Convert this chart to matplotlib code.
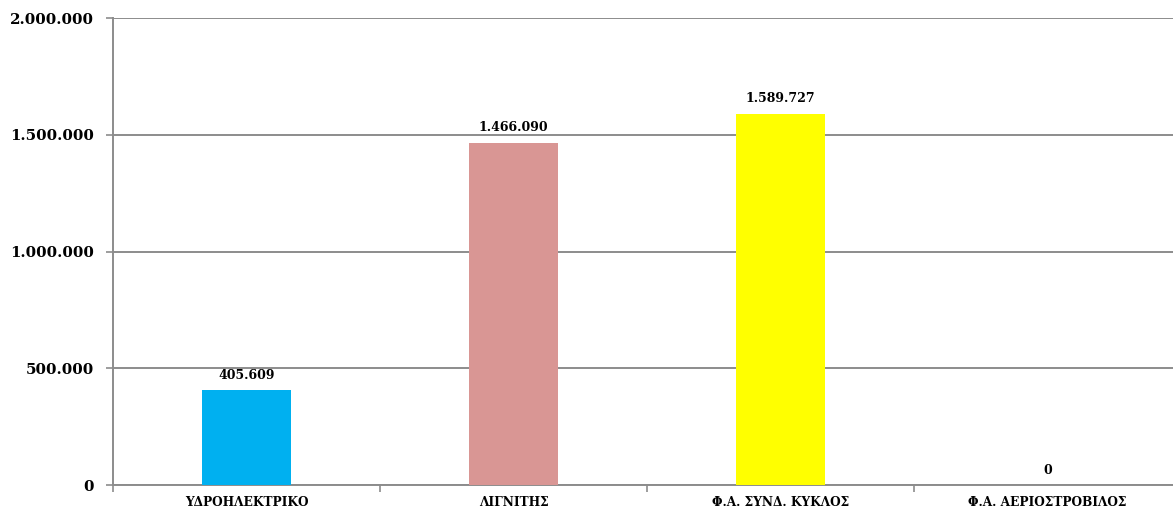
import matplotlib
matplotlib.use("Agg")
import matplotlib.pyplot as plt
from matplotlib.ticker import FuncFormatter, FixedLocator

categories = ["ΥΔΡΟΗΛΕΚΤΡΙΚΟ", "ΛΙΓΝΙΤΗΣ", "Φ.Α. ΣΥΝΔ. ΚΥΚΛΟΣ", "Φ.Α. ΑΕΡΙΟΣΤΡΟΒΙΛΟΣ"]
values = [405609, 1466090, 1589727, 0]
colors = ["#00B0F0", "#D99694", "#FFFF00", "#A0A0A0"]
yticks = [0, 500000, 1000000, 1500000, 2000000]

def fmt(v):
    return f"{int(v):,}".replace(",", ".")

plt.rcParams['font.family'] = ['DejaVu Serif']
fig = plt.figure(figsize=(11.73, 5.11), dpi=100)
ax = fig.add_axes([113/1173, 26/511, (1181-113)/1173, (485-18)/511])

x = list(range(len(categories)))
bars = ax.bar(x, values, width=0.335, color=colors, zorder=3)

ax.set_xlim(-0.5, len(categories) - 0.5)
ax.set_ylim(0, 2000000)
ax.set_yticks(yticks)
ax.yaxis.set_major_formatter(FuncFormatter(lambda v, p: fmt(v)))
ax.grid(axis='y', color='#8C8C8C', linewidth=1.4, zorder=0)
ax.set_axisbelow(True)

ax.set_xticks(x)
ax.set_xticklabels(categories, fontsize=8.7, fontweight='bold')
ax.xaxis.set_minor_locator(FixedLocator([i - 0.5 for i in range(len(categories) + 1)]))
ax.tick_params(axis='x', which='major', length=0, pad=8)
ax.tick_params(axis='x', which='minor', length=5, color='#8C8C8C', width=1.2)
ax.tick_params(axis='y', length=5, color='#8C8C8C', width=1.2, pad=9, labelsize=10.8)
for lab in ax.get_yticklabels():
    lab.set_fontweight('bold')

for s in ['top', 'right']:
    ax.spines[s].set_visible(False)
for s in ['left', 'bottom']:
    ax.spines[s].set_color('#8C8C8C')
    ax.spines[s].set_linewidth(1.4)

for xi, v in zip(x, values):
    ax.annotate(fmt(v), (xi, v), xytext=(0, 6), textcoords='offset points',
                ha='center', va='bottom', fontsize=9, fontweight='bold')

fig.savefig("out.png", dpi=100)
